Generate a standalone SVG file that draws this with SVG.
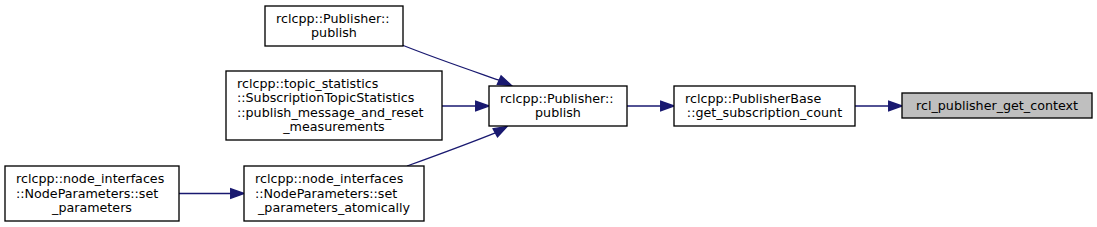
<svg xmlns="http://www.w3.org/2000/svg" width="1097" height="227" viewBox="0 0 1097 227">
<style>
.n rect{fill:#ffffff;stroke:#000000;stroke-width:1.33}
.n rect.hl{fill:#bfbfbf}
text{font-family:"DejaVu Sans","Liberation Sans",sans-serif;font-size:12.7px;fill:#000000}
.m{text-anchor:middle}
.e path{fill:none;stroke:#191970;stroke-width:1.33}
.e polygon{fill:#191970;stroke:#191970;stroke-width:1.33}
</style>
<rect width="1097" height="227" fill="#ffffff"/>
<g class="e" id="edges">
<path d="M855,106 L889,106"/>
<polygon points="902,106 888.7,101.3 888.7,110.7"/>
<path d="M627,106 L661,106"/>
<polygon points="674,106 660.7,101.3 660.7,110.7"/>
<path d="M442,106 L476,106"/>
<polygon points="489,106 475.7,101.3 475.7,110.7"/>
<path d="M402,45 C440,60 470,70 499.2,80.2"/>
<polygon points="511.5,85.5 501.1,75.9 497.3,84.5"/>
<path d="M407,166 C440,154 470,143 495.3,132.8"/>
<polygon points="507,126.5 497.5,136.9 493.1,128.7"/>
<path d="M179,193.5 L231,193.5"/>
<polygon points="244,193.5 230.7,188.8 230.7,198.2"/>
</g>
<g class="n" id="node1">
<rect class="hl" x="902" y="93" width="190" height="25"/>
<text class="m" x="997" y="110">rcl_publisher_get_context</text>
</g>
<g class="n" id="node2">
<rect x="674" y="86" width="181" height="40"/>
<text x="685" y="102.5">rclcpp::PublisherBase</text>
<text class="m" x="764.5" y="117">::get_subscription_count</text>
</g>
<g class="n" id="node3">
<rect x="489" y="86" width="138" height="40"/>
<text x="500" y="102.5">rclcpp::Publisher::</text>
<text class="m" x="558" y="117">publish</text>
</g>
<g class="n" id="node4">
<rect x="265" y="6" width="138" height="40"/>
<text x="276" y="22.5">rclcpp::Publisher::</text>
<text class="m" x="334" y="37">publish</text>
</g>
<g class="n" id="node5">
<rect x="226" y="71" width="216" height="69"/>
<text x="237" y="87.5">rclcpp::topic_statistics</text>
<text x="237" y="102">::SubscriptionTopicStatistics</text>
<text x="237" y="116.5">::publish_message_and_reset</text>
<text class="m" x="334" y="131">_measurements</text>
</g>
<g class="n" id="node6">
<rect x="244" y="166" width="180" height="55"/>
<text x="255" y="183">rclcpp::node_interfaces</text>
<text x="255" y="197.5">::NodeParameters::set</text>
<text class="m" x="334" y="212">_parameters_atomically</text>
</g>
<g class="n" id="node7">
<rect x="5" y="166" width="174" height="55"/>
<text x="16" y="183">rclcpp::node_interfaces</text>
<text x="16" y="197.5">::NodeParameters::set</text>
<text class="m" x="92" y="212">_parameters</text>
</g>
</svg>
